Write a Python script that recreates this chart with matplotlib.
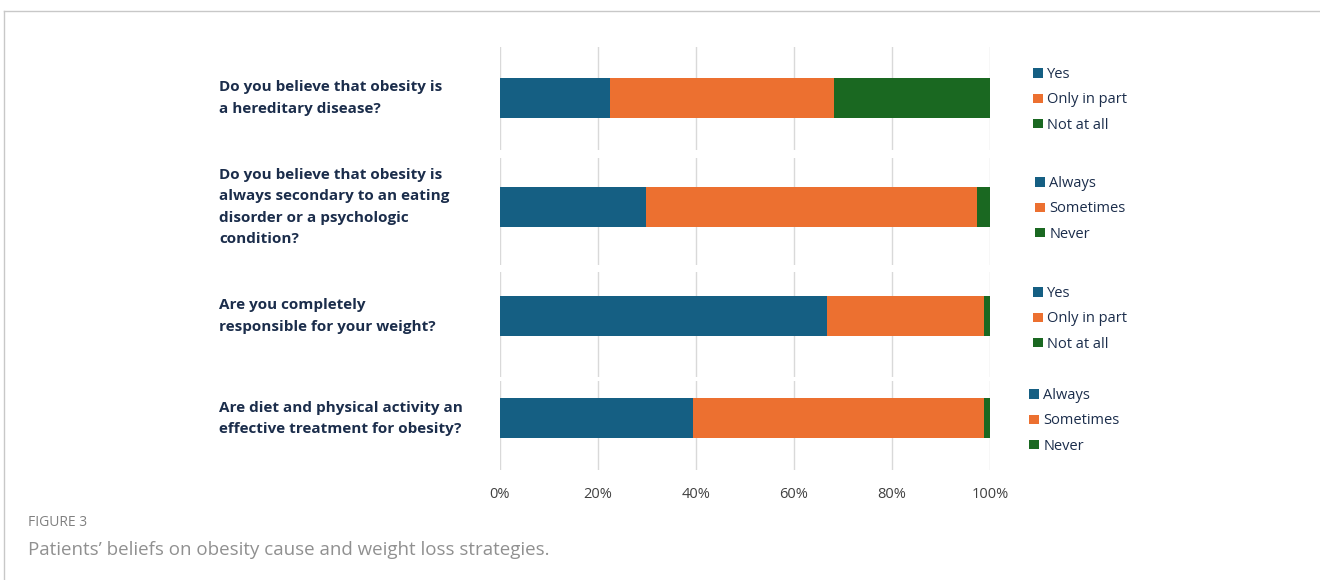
import matplotlib
matplotlib.use('Agg')
import matplotlib.pyplot as plt

plt.rcParams['font.family'] = ['Open Sans', 'DejaVu Sans']

# Dados (% de respostas)
questions = [
    'Do you believe that obesity is\na hereditary disease?',
    'Do you believe that obesity is\nalways secondary to an eating\ndisorder or a psychologic\ncondition?',
    'Are you completely\nresponsible for your weight?',
    'Are diet and physical activity an\neffective treatment for obesity?',
]
answers = [
    ['Yes', 'Only in part', 'Not at all'],
    ['Always', 'Sometimes', 'Never'],
    ['Yes', 'Only in part', 'Not at all'],
    ['Always', 'Sometimes', 'Never'],
]
first = [22.4, 29.7, 66.8, 39.4]
second = [45.8, 67.7, 31.9, 59.3]
third = [31.8, 2.6, 1.3, 1.3]
ticks = [0, 20, 40, 60, 80, 100]
tick_labels = ['0%', '20%', '40%', '60%', '80%', '100%']

colors = ['#155f83', '#ec7030', '#1a6821']
navy = '#1b2d4b'

W, H = 1320, 580
fig = plt.figure(figsize=(13.2, 5.8), dpi=100)

# paineis em pixels: topo, base, centro da barra
panels = [(47, 150, 98), (158, 265, 207), (272, 377, 316), (381, 470, 418.5)]
legend_y = [100, 209, 319, 421]
legend_x = [1026, 1028, 1026, 1022]

for i, (top, bot, cen) in enumerate(panels):
    ax = fig.add_axes([500 / W, 1 - bot / H, 490 / W, (bot - top) / H])
    vals = [first[i], second[i], third[i]]
    left = 0
    for v, c, lab in zip(vals, colors, answers[i]):
        ax.barh(0, v, left=left, height=40, color=c, label=lab, zorder=3)
        left += v
    ax.set_xlim(0, 100)
    ax.set_ylim(-(bot - cen), cen - top)
    ax.set_xticks(ticks)
    ax.set_yticks([])
    ax.grid(axis='x', color='#d9d9d9', lw=1, zorder=0)
    for s in ax.spines.values():
        s.set_visible(False)
    if i == len(panels) - 1:
        ax.set_xticklabels(tick_labels, fontsize=10.5, color='#404040')
        ax.tick_params(axis='x', length=0, pad=12)
    else:
        ax.tick_params(axis='x', length=0, labelbottom=False)
    ax.legend(loc='center left', bbox_to_anchor=(legend_x[i] / W, 1 - legend_y[i] / H),
              bbox_transform=fig.transFigure, frameon=False, fontsize=10.5,
              handlelength=0.65, handleheight=0.65, handletextpad=0.3,
              labelspacing=0.7, borderpad=0, labelcolor=navy)
    fig.text(219 / W, 1 - cen / H, questions[i], ha='left', va='center',
             fontsize=11, fontweight='bold', color=navy, linespacing=1.65)

# moldura
fig.add_artist(plt.Line2D([4 / W, 1], [1 - 11 / H, 1 - 11 / H], color='#c8c8c8', lw=1))
fig.add_artist(plt.Line2D([4 / W, 4 / W], [0, 1 - 11 / H], color='#c8c8c8', lw=1))

fig.text(28 / W, 1 - 522 / H, 'FIGURE 3', fontsize=10, color='#808080', va='center')
fig.text(28 / W, 1 - 550 / H, 'Patients\u2019 beliefs on obesity cause and weight loss strategies.',
         fontsize=13.5, color='#909090', va='center')

plt.savefig('out.png', dpi=100)
